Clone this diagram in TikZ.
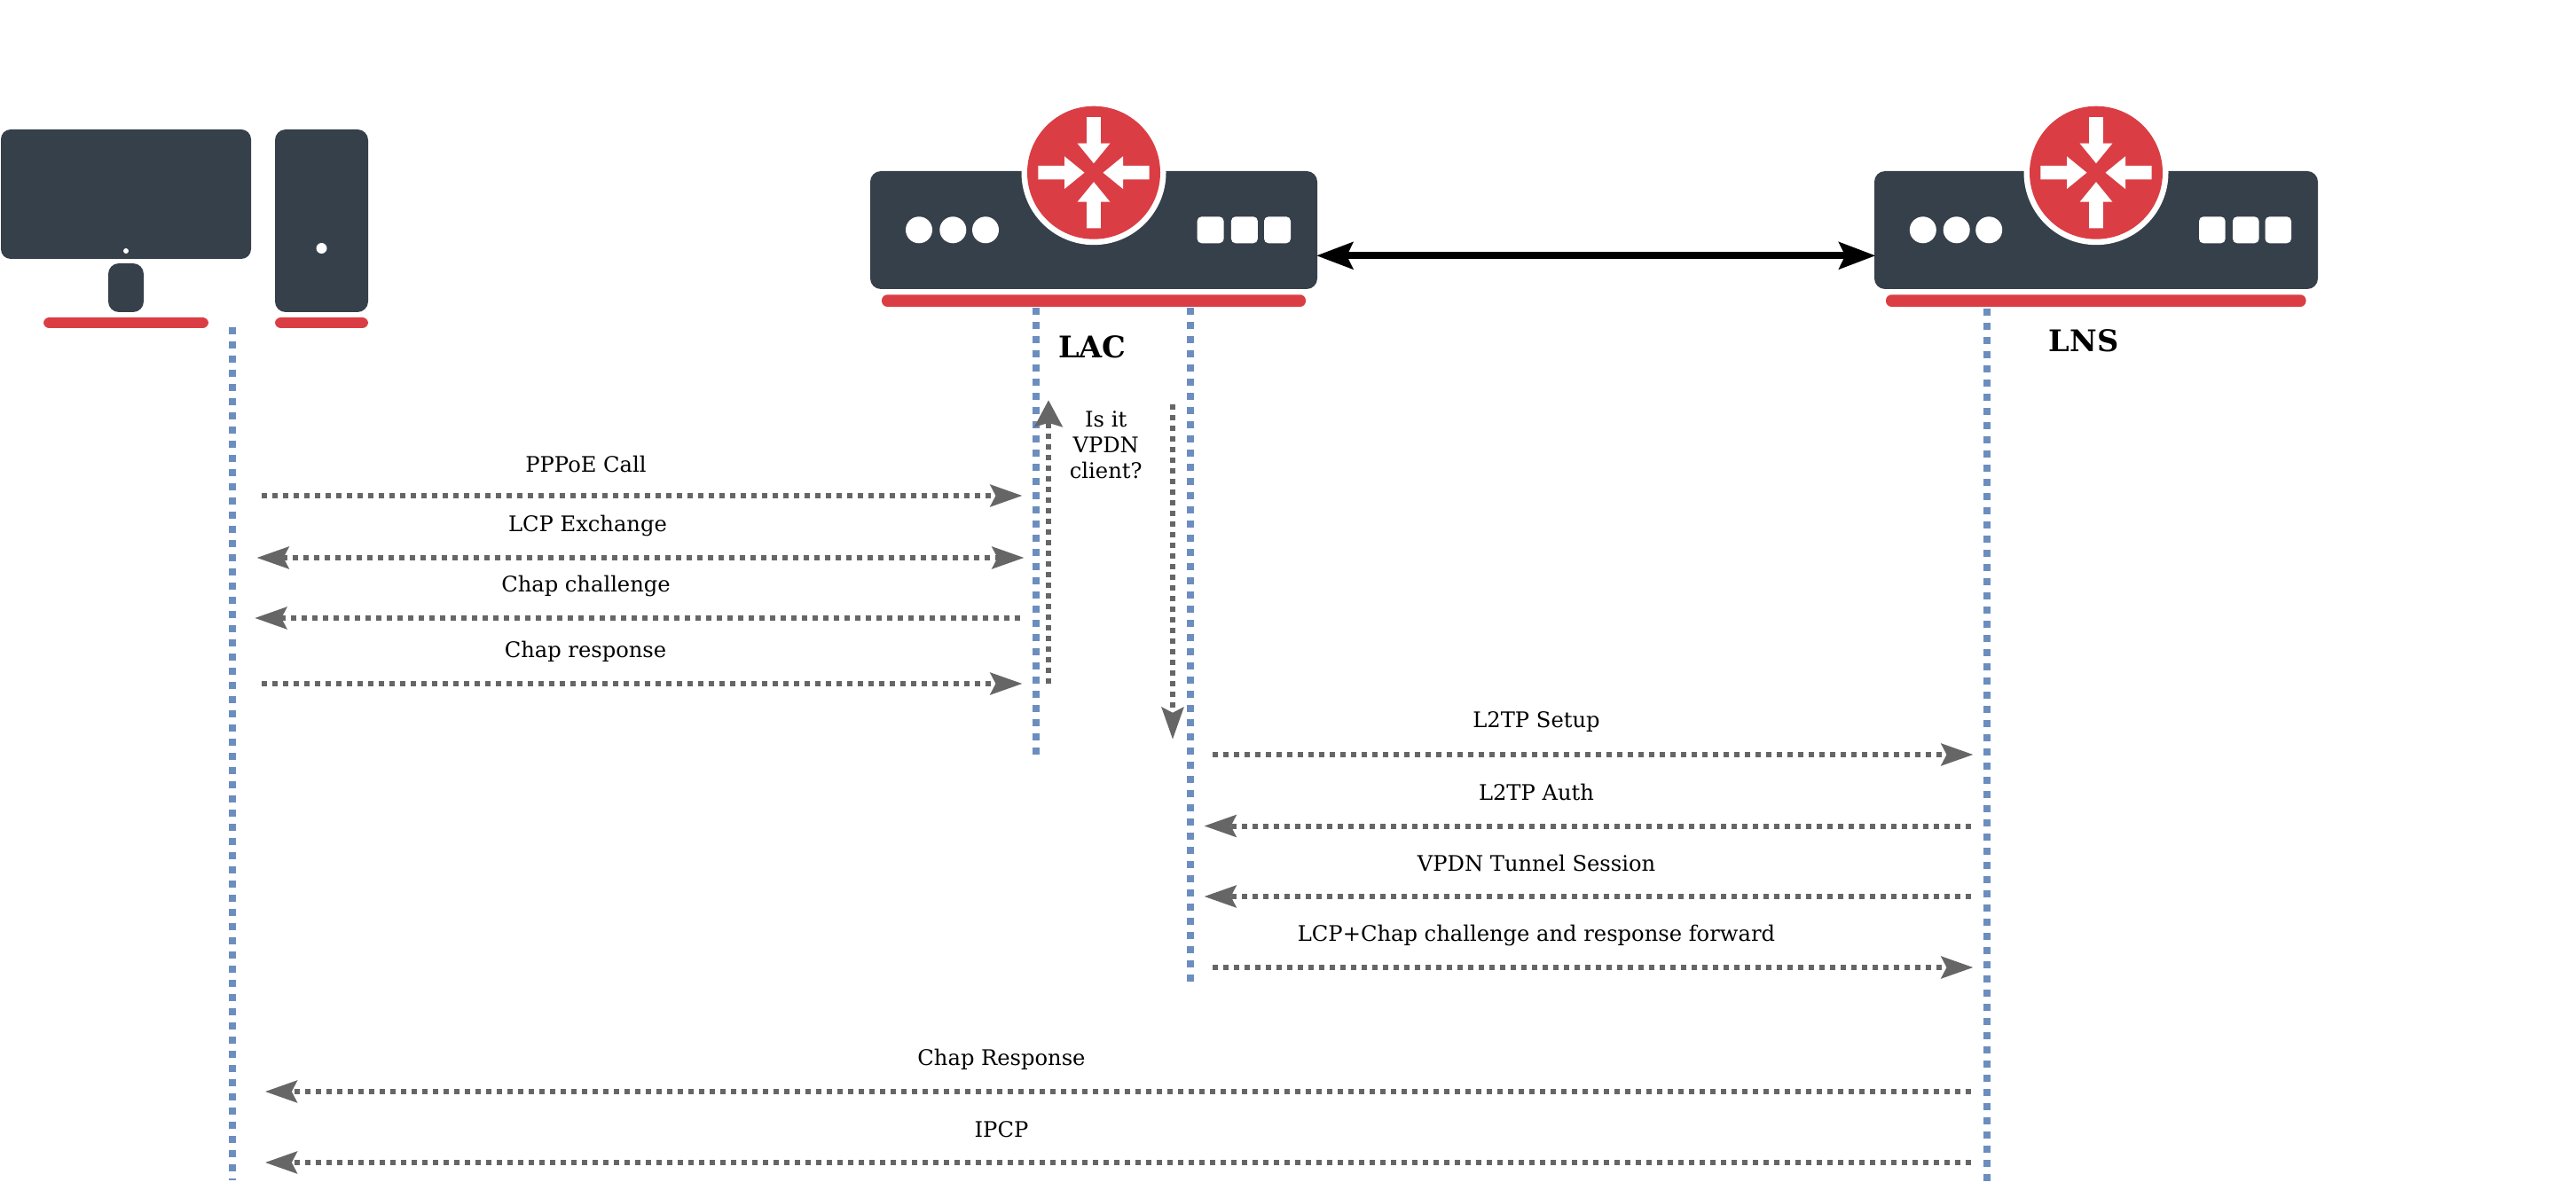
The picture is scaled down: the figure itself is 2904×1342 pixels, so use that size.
\documentclass[tikz,border=0pt]{standalone}
\usepackage{fontspec}
\setmainfont{DejaVu Serif}
\usetikzlibrary{arrows.meta}
\definecolor{devdark}{HTML}{36404A}
\definecolor{devred}{HTML}{DA3E44}
\definecolor{lifeblue}{HTML}{6C8EBF}
\definecolor{msggray}{HTML}{666666}
\tikzset{
  x=0.5pt,y=-0.5pt,
  shapebox/.style={rectangle,draw=none,inner sep=0pt,outer sep=0pt},
  darkbox/.style={shapebox,fill=devdark},
  redbar/.style={shapebox,fill=devred,rounded corners=6.5pt*0.5},
  whitebox/.style={shapebox,fill=white,rounded corners=2.5pt},
  lifeline/.style={draw=lifeblue,line width=4pt,dash pattern=on 4pt off 4pt},
  msgline/.style={draw=msggray,line width=3pt,dash pattern=on 3pt off 3pt},
  msgtip/.tip={Stealth[length=18pt,width=12.3pt,inset=3pt,msggray]},
  uptip/.tip={Stealth[length=15pt,width=15.6pt,inset=2.2pt,msggray]},
  bigtip/.tip={Stealth[length=20.5pt,width=15pt,inset=3.4pt,black]},
  msglabel/.style={font=\fontsize{12.1}{14.5}\selectfont,inner sep=0pt,align=center,text=black},
  titlelabel/.style={font=\fontsize{16.8}{20}\selectfont\bfseries,inner sep=0pt,text=black},
}
\newcommand\pxbox[6]{\node[#1,minimum width={(#4-#2)*0.5pt},minimum height={(#5-#3)*0.5pt}] (#6) at ({(#2+#4)/2},{(#3+#5)/2}) {};}
\newcommand\pxdot[4]{\node[circle,fill=white,draw=none,inner sep=0pt,minimum size={#3*1pt}] (#4) at (#1,#2) {};}
\newcommand\routercore[3]{%
  \node[circle,fill=white,draw=none,inner sep=0pt,minimum size=81.5pt] (#3halo) at (#1,#2) {};
  \node[circle,fill=devred,draw=none,inner sep=0pt,minimum size=75pt] (#3disc) at (#1,#2) {};
  \begin{scope}[shift={(#1,#2)}]
    \foreach \a in {0,90,180,270}
      \fill[white,rotate=\a] (10.5,0) -- (33,-18.4) -- (33,-7.8) -- (62.6,-7.8) -- (62.6,7.8) -- (33,7.8) -- (33,18.4) -- cycle;
  \end{scope}}
\begin{document}
\begin{tikzpicture}
\useasboundingbox (0,0) rectangle (2904,1342);
% computer
\pxbox{darkbox,rounded corners=5.5pt}{1}{146}{283}{292}{monitor}
\pxbox{darkbox,rounded corners=6pt}{122}{297}{162}{352}{stand}
\pxbox{redbar}{49}{358}{235}{370}{monitorbar}
\pxbox{darkbox,rounded corners=6pt}{310}{146}{415}{352}{tower}
\pxbox{redbar}{310}{358}{415}{370}{towerbar}
\pxdot{142}{283}{3}{monitordot}
\pxdot{362.5}{280}{6}{towerdot}
% LAC router
\pxbox{darkbox,rounded corners=6pt}{981}{193}{1485}{326}{lacbody}
\routercore{1233}{194.7}{lac}
\pxdot{1036}{259.3}{15}{lacled1}
\pxdot{1074.3}{259.3}{15}{lacled2}
\pxdot{1111}{259.3}{15}{lacled3}
\pxbox{whitebox}{1349.6}{244.3}{1379.6}{274.3}{lacport1}
\pxbox{whitebox}{1387.9}{244.3}{1417.9}{274.3}{lacport2}
\pxbox{whitebox}{1425}{244.3}{1455}{274.3}{lacport3}
\pxbox{redbar}{994}{332.3}{1472}{346}{lacbar}
% LNS router
\pxbox{darkbox,rounded corners=6pt}{2113}{193}{2613}{326}{lnsbody}
\routercore{2363}{194.7}{lns}
\pxdot{2167.8}{259.3}{15}{lnsled1}
\pxdot{2205.7}{259.3}{15}{lnsled2}
\pxdot{2242.2}{259.3}{15}{lnsled3}
\pxbox{whitebox}{2479}{244.3}{2508.7}{274.3}{lnsport1}
\pxbox{whitebox}{2517}{244.3}{2546.6}{274.3}{lnsport2}
\pxbox{whitebox}{2553.5}{244.3}{2583}{274.3}{lnsport3}
\pxbox{redbar}{2126}{332.3}{2599.6}{346}{lnsbar}
% titles
\node[titlelabel] (laclabel) at (1231.4,391.5) {LAC};
\node[titlelabel] (lnslabel) at (2349,384) {LNS};
% lifelines
\coordinate (hostA) at (262,369);  \coordinate (hostB) at (262,1331);
\coordinate (lacAa) at (1168,347); \coordinate (lacAb) at (1168,851);
\coordinate (lacBa) at (1342,347); \coordinate (lacBb) at (1342,1107);
\coordinate (lnsA) at (2239.5,348); \coordinate (lnsB) at (2239.5,1332);
\draw[lifeline] (hostA) -- (hostB);
\draw[lifeline] (lacAa) -- (lacAb);
\draw[lifeline] (lacBa) -- (lacBb);
\draw[lifeline] (lnsA) -- (lnsB);
% backbone
\coordinate (lacport) at (1484,288.3);
\coordinate (lnsport) at (2114.4,288.3);
\draw[line width=4pt,black,{bigtip}-{bigtip}] (lacport) -- (lnsport);
% message end points
\coordinate (m1a) at (295,559);    \coordinate (m1b) at (1152.5,559);
\coordinate (m2a) at (289.5,629);  \coordinate (m2b) at (1154.5,629);
\coordinate (m3a) at (1150,697);   \coordinate (m3b) at (287.2,697);
\coordinate (m4a) at (295,771);    \coordinate (m4b) at (1152.5,771);
\coordinate (v1a) at (1182,771);   \coordinate (v1b) at (1182,451.2);
\coordinate (v2a) at (1322,456);   \coordinate (v2b) at (1322,833.8);
\coordinate (m5a) at (1367,851);   \coordinate (m5b) at (2224.5,851);
\coordinate (m6a) at (2222,931.5); \coordinate (m6b) at (1357.5,931.5);
\coordinate (m7a) at (2222,1011);  \coordinate (m7b) at (1357.5,1011);
\coordinate (m8a) at (1367,1091);  \coordinate (m8b) at (2224.5,1091);
\coordinate (m9a) at (2222,1231);  \coordinate (m9b) at (298.8,1231);
\coordinate (m10a) at (2222,1311); \coordinate (m10b) at (298.8,1311);
\draw[msgline,-{msgtip}] (m1a) -- (m1b);
\draw[msgline,{msgtip}-{msgtip}] (m2a) -- (m2b);
\draw[msgline,-{msgtip}] (m3a) -- (m3b);
\draw[msgline,-{msgtip}] (m4a) -- (m4b);
\draw[msgline,-{uptip}] (v1a) -- (v1b);
\draw[msgline,-{msgtip}] (v2a) -- (v2b);
\draw[msgline,-{msgtip}] (m5a) -- (m5b);
\draw[msgline,-{msgtip}] (m6a) -- (m6b);
\draw[msgline,-{msgtip}] (m7a) -- (m7b);
\draw[msgline,-{msgtip}] (m8a) -- (m8b);
\draw[msgline,-{msgtip}] (m9a) -- (m9b);
\draw[msgline,-{msgtip}] (m10a) -- (m10b);
% labels
\node[msglabel] (t1) at (660.5,523) {PPPoE Call};
\node[msglabel] (t2) at (662.5,593) {LCP Exchange};
\node[msglabel] (t3) at (660.5,661) {Chap challenge};
\node[msglabel] (t4) at (660,735) {Chap response};
\node[msglabel] (t5) at (1246.7,502) {Is it\\VPDN\\client?};
\node[msglabel] (t6) at (1732,814.5) {L2TP Setup};
\node[msglabel] (t7) at (1732,893.5) {L2TP Auth};
\node[msglabel] (t8) at (1732,973.5) {VPDN Tunnel Session};
\node[msglabel] (t9) at (1732,1054.5) {LCP+Chap challenge and response forward};
\node[msglabel] (t10) at (1129,1194.5) {Chap Response};
\node[msglabel] (t11) at (1129,1273.5) {IPCP};
\end{tikzpicture}
\end{document}
